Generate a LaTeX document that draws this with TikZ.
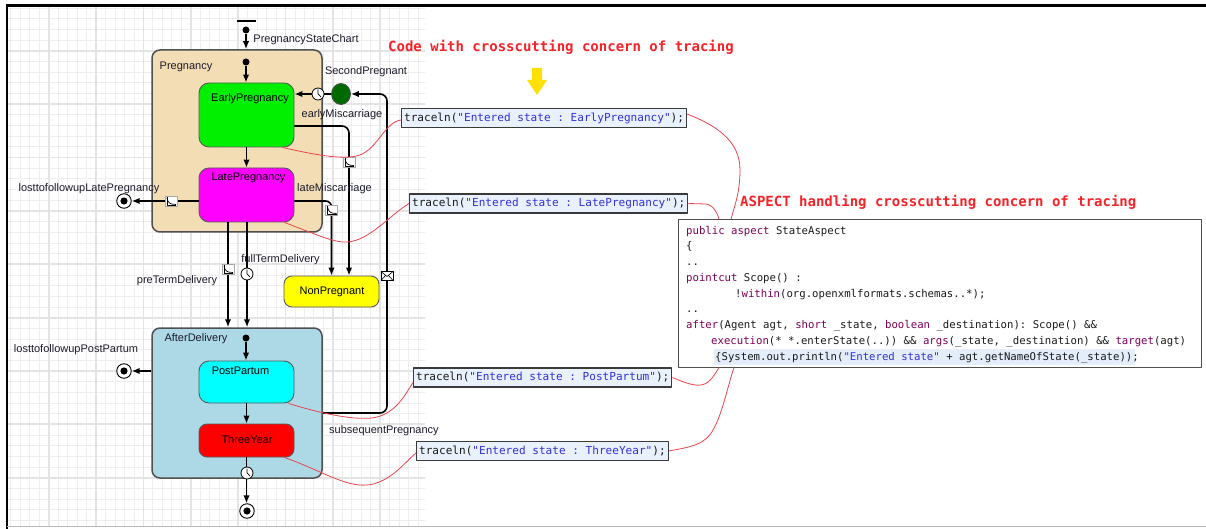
\documentclass[tikz,border=0pt]{standalone}
\usepackage{fontspec}
\setmainfont{Liberation Sans}
\setmonofont{DejaVu Sans Mono}
\usetikzlibrary{arrows.meta,shapes.geometric}

\definecolor{wheatfill}{HTML}{F3DDB5}
\definecolor{afterfill}{HTML}{ADD8E6}
\definecolor{earlyfill}{HTML}{00F000}
\definecolor{latefill}{HTML}{FF00FF}
\definecolor{nonfill}{HTML}{FFFF00}
\definecolor{postfill}{HTML}{00FFFF}
\definecolor{threefill}{HTML}{FF0000}
\definecolor{spfill}{HTML}{006A00}
\definecolor{boxborder}{HTML}{505050}
\definecolor{stateborder}{HTML}{5A5A5A}
\definecolor{labelc}{HTML}{1C1C2C}
\definecolor{codetext}{HTML}{1A1A1A}
\definecolor{kwcolor}{HTML}{7F0055}
\definecolor{strcolor}{HTML}{3030D8}
\definecolor{tracefill}{HTML}{E9F1FD}
\definecolor{tracebd}{HTML}{3A3A3A}
\definecolor{notered}{HTML}{E8454F}
\definecolor{titlered}{HTML}{F52228}
\definecolor{gridminor}{HTML}{EEEEEE}
\definecolor{gridmajor}{HTML}{E4E4E4}
\definecolor{hlfill}{HTML}{E4EEFB}
\definecolor{arrowyellow}{HTML}{FFE000}

\newcommand\kwd[1]{\textcolor{kwcolor}{#1}}
\newcommand\strg[1]{\textcolor{strcolor}{#1}}

\begin{document}
\begin{tikzpicture}[x=1pt,y=-1pt,line join=round,
  tr/.style={line width=1.6pt,-{Latex[length=8pt,width=6.5pt]}},
  composite/.style={draw=boxborder,line width=1.5pt,rounded corners=8pt,minimum width=170pt,inner sep=0pt},
  simple/.style={draw=stateborder,line width=0.9pt,rounded corners=10pt,minimum width=95pt,inner sep=0pt},
  initdot/.style={circle,fill=black,minimum size=7pt,inner sep=0pt},
  final/.style={circle,draw=black,line width=0.9pt,fill=white,minimum size=14.5pt,inner sep=0pt,
    path picture={\fill[black] (path picture bounding box.center) circle (3.6pt);}},
  branch/.style={ellipse,draw=black!70,fill=spfill,line width=0.8pt,minimum width=19pt,minimum height=21pt,inner sep=0pt},
  lbl/.style={anchor=base,inner sep=0pt,text=labelc,font=\fontsize{11}{13}\selectfont},
  trace/.style={anchor=west,draw=tracebd,line width=1.2pt,fill=tracefill,inner xsep=2.5pt,inner ysep=0pt,
    minimum height=19pt,text=codetext,font=\ttfamily\fontsize{11.07}{13}\selectfont},
  code/.style={anchor=base west,inner sep=0pt,text=codetext,font=\ttfamily\fontsize{10.66}{13}\selectfont},
  redtitle/.style={anchor=west,inner sep=0pt,text=titlered,font=\ttfamily\bfseries\fontsize{14}{16}\selectfont},
  note/.style={draw=notered,line width=0.8pt},
  clockpic/.pic={\draw[fill=white,line width=0.8pt] (0,0) circle (6pt);
    \draw[line width=0.7pt] (0,0) -- (0,-4.5) (0,0) -- (3,2.8);},
  ratepic/.pic={\draw[fill=white,draw=gray!70,line width=0.6pt] (-6,-5) rectangle (6,5);
    \draw[line width=0.7pt] (-4,-4) -- (-4,4) -- (5,4);
    \draw[line width=0.7pt] (-4,-3) .. controls (-3,2) and (-1,3.5) .. (5,3.5);},
  envpic/.pic={\draw[fill=white,line width=0.7pt] (-6,-4.5) rectangle (6,4.5);
    \draw[line width=0.6pt] (-6,-4.5) -- (0,0.5) -- (6,-4.5) (-6,4.5) -- (-1.5,-0.5) (6,4.5) -- (1.5,-0.5);}
]
\useasboundingbox (0,0) rectangle (1206,529);
\fill[white] (0,0) rectangle (1206,529);

% editor grid behind the statechart
\begin{scope}
  \clip (8,7) rectangle (425,526);
  \foreach \i in {0,...,45} \draw[gridminor,line width=0.8pt] ({1.35+9.47*\i},0) -- ++(0,529);
  \foreach \i in {0,...,50} \draw[gridminor,line width=0.8pt] (0,{-2.5+10.67*\i}) -- ++(430,0);
  \foreach \i in {0,...,9} \draw[gridmajor,line width=1.8pt] ({1.35+47.35*\i},0) -- ++(0,529);
  \foreach \i in {0,...,10} \draw[gridmajor,line width=1.8pt] (0,{-2.5+53.35*\i}) -- ++(430,0);
\end{scope}

% window frame
\draw[black,line width=3pt] (6,5.5) -- (1206,5.5);
\draw[black,line width=2.3pt] (7.2,5) -- (7.2,529);
\draw[gray!55,line width=1.2pt] (7,526.5) -- (1206,526.5);

% composite states
\node[composite,fill=wheatfill,minimum height=182pt] (preg) at (237,141) {};
\node[composite,fill=afterfill,minimum height=150pt] (ad) at (237,403) {};

% simple states
\node[simple,fill=earlyfill,minimum height=64pt] (early) at (246.5,115) {};
\node[simple,fill=latefill,minimum height=54pt] (late) at (246.5,195) {};
\node[simple,fill=nonfill,minimum height=31pt,rounded corners=8pt] (np) at (331.5,291.5) {};
\node[simple,fill=postfill,minimum height=42pt] (post) at (246.5,382) {};
\node[simple,fill=threefill,minimum height=33pt,rounded corners=8pt] (three) at (246.5,440.5) {};

% pseudo states
\draw[line width=1.8pt] (237,21) -- (256,21);
\node[initdot] (i0) at (246,30) {};
\node[initdot] (i1) at (246,62) {};
\node[initdot] (i2) at (246,338) {};
\node[final] (f1) at (124,201) {};
\node[final] (f2) at (124,371) {};
\node[final] (f3) at (247,511) {};
\node[branch] (sp) at (341,94) {};
\coordinate (subbend) at (387,250);

% transitions
\draw[tr] (i0) -- (i0 |- preg.north);
\draw[tr] (i1) -- (i1 |- early.north);
\draw[tr] (early) -- (late);
\draw[tr] (sp) -- (sp -| early.east);
\draw[tr,rounded corners=7pt] ([yshift=-11pt]early.east) -| ([xshift=17.5pt]np.north);
\draw[tr,rounded corners=6pt] ([yshift=-6pt]late.east) -| (np.north);
\draw[tr] ([yshift=-6pt]late.west) -- (f1);
\draw[tr] ([xshift=-18.5pt]late.south) -- ([xshift=-18.5pt]late.south |- ad.north);
\draw[tr] ([xshift=0.5pt]late.south) -- ([xshift=0.5pt]late.south |- ad.north);
\draw[tr] (i2) -- (i2 |- post.north);
\draw[tr] (post) -- (three);
\draw[tr] (three.south) -- (three.south |- f3.north);
\draw[tr] ([yshift=32pt]ad.west) -- (f2);
\draw[tr,rounded corners=7pt] ([yshift=-10pt]ad.east) -| (subbend) |- (sp.east);

% trigger symbols on transitions
\pic at (318,94) {clockpic};
\pic at (349,162) {ratepic};
\pic at (331.5,210) {ratepic};
\pic at (171,201) {ratepic};
\pic at (228,269) {ratepic};
\pic at (247,274) {clockpic};
\pic at (247,473) {clockpic};
\pic at (387,276) {envpic};

% names
\node[lbl] (nchart) at (306,43) {PregnancyStateChart};
\node[lbl] (npreg) at (186,70) {Pregnancy};
\node[lbl,text=black] (nearly) at (250,102) {EarlyPregnancy};
\node[lbl] (nsp) at (366,75) {SecondPregnant};
\node[lbl] (nemis) at (342,118) {earlyMiscarriage};
\node[lbl,text=black] (nlate) at (248.5,181) {LatePregnancy};
\node[lbl] (nlostlate) at (89,192) {losttofollowupLatePregnancy};
\node[lbl] (nlmis) at (334.5,192) {lateMiscarriage};
\node[lbl,text=black] (nnp) at (332,294) {NonPregnant};
\node[lbl] (nfull) at (280.5,262) {fullTermDelivery};
\node[lbl] (npre) at (177,283) {preTermDelivery};
\node[lbl] (nad) at (196,341) {AfterDelivery};
\node[lbl,text=black] (npost) at (240.5,374) {PostPartum};
\node[lbl] (nlostpost) at (76,352) {losttofollowupPostPartum};
\node[lbl,text=black] (nthree) at (247,443) {ThreeYear};
\node[lbl,anchor=base west] (nsub) at (329,433) {subsequentPregnancy};

% aspect box with its code
\node[draw=boxborder,line width=1pt,fill=white,minimum width=523pt,minimum height=147pt,inner sep=0pt] (asp) at (939.5,293.5) {};
\fill[hlfill] (714,349) rectangle (1135,365);
\node[code] (a1) at (686,234) {\kwd{public} \kwd{aspect} StateAspect};
\node[code] (a2) at (686,249.75) {\{};
\node[code] (a3) at (686,265.5) {..};
\node[code] (a4) at (686,281.25) {\kwd{pointcut} Scope() :};
\node[code] (a5) at (735,297) {!\kwd{within}(org.openxmlformats.schemas..*);};
\node[code] (a6) at (686,312.75) {..};
\node[code] (a7) at (686,328.5) {\kwd{after}(Agent agt, \kwd{short} \_state, \kwd{boolean} \_destination): Scope() \&\&};
\node[code] (a8) at (711,344.25) {\kwd{execution}(* *.enterState(..)) \&\& \kwd{args}(\_state, \_destination) \&\& \kwd{target}(agt)};
\node[code] (a9) at (715,360) {\{System.out.println(\strg{"Entered state"} + agt.getNameOfState(\_state));};

% trace statements
\node[trace] (t1) at (401,118) {traceln(\strg{"Entered state : EarlyPregnancy"});};
\node[trace] (t2) at (409,203.5) {traceln(\strg{"Entered state : LatePregnancy"});};
\node[trace] (t3) at (413,377.5) {traceln(\strg{"Entered state : PostPartum"});};
\node[trace] (t4) at (416,451) {traceln(\strg{"Entered state : ThreeYear"});};

% links from states to trace statements
\draw[note] ([xshift=-12pt]early.south east) .. controls (320,156) and (345,160) .. (360,155)
  .. controls (378,148) and (385,122) .. ([yshift=-2pt]t1.west);
\draw[note] ([xshift=-10pt]late.south east) .. controls (320,236) and (335,243) .. (348,242)
  .. controls (370,240) and (390,215) .. (t2.west);
\draw[note] ([xshift=-6pt]post.south east) .. controls (320,413) and (350,420) .. (372,418)
  .. controls (395,415) and (405,395) .. ([yshift=-5pt]t3.west);
\draw[note] ([xshift=-10pt]three.south east) .. controls (320,470) and (345,487) .. (367,485)
  .. controls (390,483) and (405,462) .. ([yshift=-2pt]t4.west);

% links from trace statements to the aspect
\draw[note] ([yshift=4pt]t1.east) .. controls (715,125) and (740,140) .. (740,170)
  .. controls (740,195) and (733,210) .. ([xshift=-208.5pt]asp.north);
\draw[note] (t2.east) -- (706,204) .. controls (714,205) and (718,215) .. ([xshift=-220.5pt]asp.north);
\draw[note] (t3.east) .. controls (690,385) and (700,388) .. (708,382)
  .. controls (714,377) and (716,372) .. ([xshift=-220.5pt]asp.south);
\draw[note] (t4.east) .. controls (690,447) and (705,445) .. (713,430)
  .. controls (722,415) and (728,385) .. ([xshift=-205.5pt]asp.south);

% headings
\node[redtitle] (title1) at (388,47) {Code with crosscutting concern of tracing};
\node[redtitle] (title2) at (740,202) {ASPECT handling crosscutting concern of tracing};
\fill[arrowyellow] (532,68) -- (542,68) -- (542,80) -- (547,80) -- (537,95) -- (527,80) -- (532,80) -- cycle;
\end{tikzpicture}
\end{document}
